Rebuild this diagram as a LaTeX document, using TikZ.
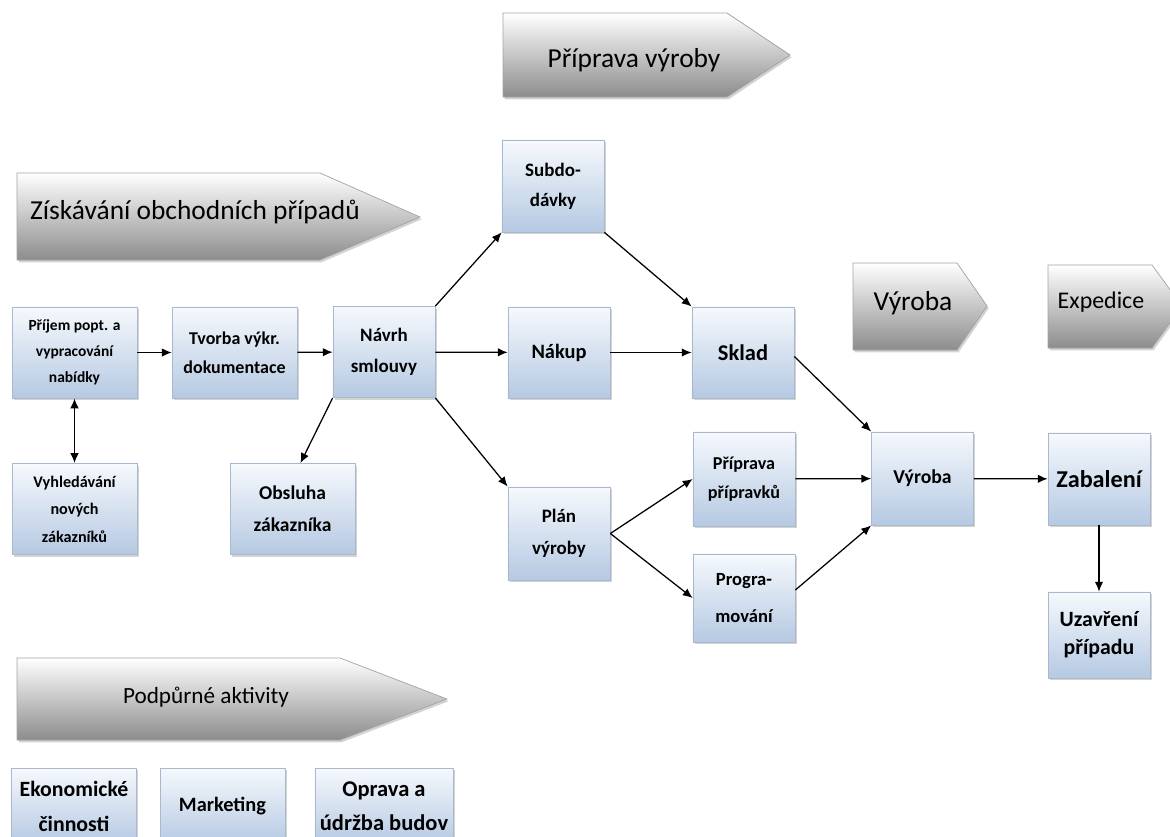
\documentclass[tikz,border=0pt]{standalone}
\usepackage{fontspec}
\setmainfont{Carlito}
\usepackage{tikz}
\usetikzlibrary{positioning, arrows.meta, calc, shadows}

\definecolor{boxtop}{HTML}{F6F9FD}
\definecolor{boxbottom}{HTML}{B5C9E2}
\definecolor{boxline}{HTML}{A9B8CC}
\definecolor{bannerline}{HTML}{A3A3A3}

\newcommand{\boxfont}[2]{\bfseries\fontsize{#1}{#2}\selectfont}

\begin{document}
\begin{tikzpicture}[x=0.025cm, y=-0.025cm,
            activity/.style={draw=boxline, line width=0.5pt, rectangle, top color=boxtop, bottom color=boxbottom, minimum width=2.55cm, minimum height=2.28cm, align=center, inner sep=1pt, font=\boxfont{13.5}{22.5}, drop shadow={opacity=0.35, shadow xshift=1.2pt, shadow yshift=-1.6pt}},
            wide/.style={minimum width=3.12cm},
            banner/.style={draw=bannerline, line width=0.5pt, top color=white, bottom color=black!45, drop shadow={opacity=0.35, shadow xshift=1.2pt, shadow yshift=-1.6pt}},
            bannerlabel/.style={font=\fontsize{19.5}{23}\selectfont, inner sep=0pt},
            edge/.style={line width=0.9pt, -{Latex[length=7pt, width=6pt]}}
        ]

        \useasboundingbox (0,0) rectangle (1170,836);
        \clip (0,0) rectangle (1170,836);

        % Fáze
        \path[banner] (503,13) -- (727,13) -- (790,55) -- (727,97) -- (503,97) -- cycle;
        \node[bannerlabel] (tPriprava) at (634,60) {Příprava výroby};

        \path[banner] (17,173) -- (320,173) -- (420,217) -- (320,260) -- (17,260) -- cycle;
        \node[bannerlabel] (tZiskavani) at (195,212) {Získávání obchodních případů};

        \path[banner] (853,263) -- (957,263) -- (987,306) -- (957,350) -- (853,350) -- cycle;
        \node[bannerlabel] (tVyroba) at (913,303) {Výroba};

        \path[banner] (1048,265) -- (1152,265) -- (1182,306) -- (1152,348) -- (1048,348) -- cycle;
        \node[bannerlabel, font=\fontsize{17}{20}\selectfont] (tExpedice) at (1101,302) {Expedice};

        \path[banner] (17,658) -- (340,658) -- (447,699) -- (340,740) -- (17,740) -- cycle;
        \node[bannerlabel, font=\fontsize{16.5}{20}\selectfont] (tPodpurne) at (206,697) {Podpůrné aktivity};

        % Činnosti
        \node[activity, wide, font=\boxfont{11}{18.5}] (prijem) at (74.5,352.5) {Příjem popt. a\\vypracování\\nabídky};
        \node[activity, wide, font=\boxfont{12.8}{20.5}] (tvorba) at (234.5,352.5) {Tvorba výkr.\\dokumentace};
        \node[activity] (navrh) at (384,352) {Návrh\\smlouvy};
        \node[activity, minimum height=2.3cm, font=\boxfont{13.5}{21.5}] (subdo) at (553,186) {Subdo-\\dávky};
        \node[activity, font=\boxfont{14.5}{19}] (nakup) at (559,352.5) {Nákup};
        \node[activity, font=\boxfont{16}{19}] (sklad) at (743,352.5) {Sklad};
        \node[activity, wide, font=\boxfont{11.5}{19.5}] (vyhled) at (74.5,509) {Vyhledávání\\nových\\zákazníků};
        \node[activity, wide, font=\boxfont{13.9}{22.5}] (obsluha) at (292.5,509) {Obsluha\\zákazníka};
        \node[activity, minimum height=2.33cm] (plan) at (559,533.5) {Plán\\výroby};
        \node[activity, minimum height=2.35cm, font=\boxfont{12.9}{20.5}] (priprava) at (744,479) {Příprava\\přípravků};
        \node[activity, minimum height=2.2cm, font=\boxfont{13.2}{26}] (program) at (744,598) {Progra-\\mování};
        \node[activity, minimum height=2.33cm, font=\boxfont{14}{19}] (vyroba) at (922.5,478.5) {Výroba};
        \node[activity, minimum height=2.3cm, font=\boxfont{17.2}{20}] (zabaleni) at (1099,479) {Zabalení};
        \node[activity, minimum height=2.15cm, font=\boxfont{15.5}{20}] (uzavreni) at (1099,635) {Uzavření\\případu};

        \node[activity, wide, minimum height=1.9cm, font=\boxfont{15.5}{25}] (ekonom) at (74,806) {Ekonomické\\činnosti};
        \node[activity, wide, minimum height=1.9cm, font=\boxfont{14.5}{25}] (marketing) at (222.5,806) {Marketing};
        \node[activity, minimum width=3.45cm, minimum height=1.9cm, font=\boxfont{16}{24}] (oprava) at (384,806) {Oprava a\\údržba budov};

        % Vazby
        \draw[edge] (prijem) -- (tvorba);
        \draw[edge] (tvorba) -- (navrh);
        \draw[edge, {Latex[length=7pt, width=6pt]}-{Latex[length=7pt, width=6pt]}] (prijem) -- (vyhled);
        \draw[edge] (navrh.north east) -- (subdo.south west);
        \draw[edge] (navrh) -- (nakup);
        \draw[edge] (navrh.south west) -- ([xshift=0.2cm]obsluha.north);
        \draw[edge] (navrh.south east) -- (plan.north west);
        \draw[edge] (subdo.south east) -- (sklad.north west);
        \draw[edge] (nakup) -- (sklad);
        \draw[edge] ([yshift=-0.1cm]sklad.east) -- (vyroba.north west);
        \draw[edge] (plan.east) -- (priprava.west);
        \draw[edge] (plan.east) -- (program.west);
        \draw[edge] (priprava) -- (vyroba);
        \draw[edge] ([yshift=0.2cm]program.east) -- (vyroba.south west);
        \draw[edge] (vyroba) -- (zabaleni);
        \draw[edge] (zabaleni) -- (uzavreni);

    \end{tikzpicture}
\end{document}
